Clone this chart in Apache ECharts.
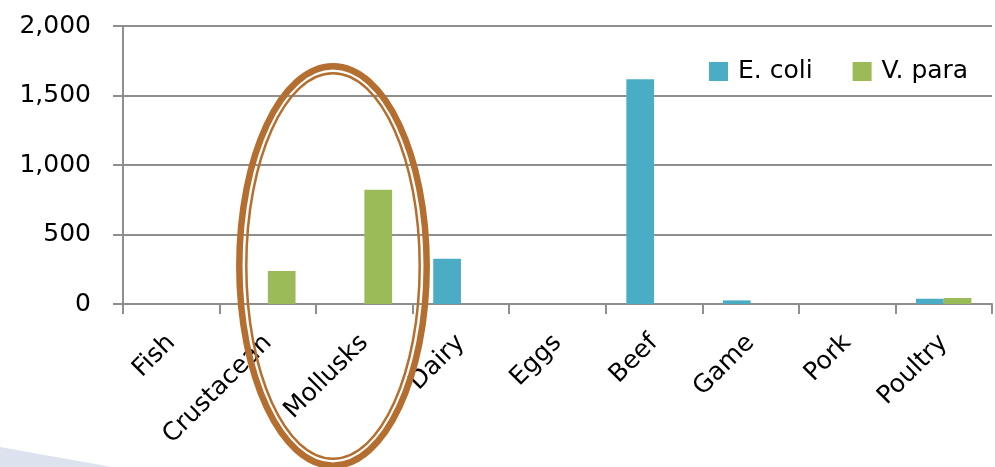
<!DOCTYPE html>
<html>
<head>
<meta charset="utf-8">
<script src="https://cdn.jsdelivr.net/npm/echarts@6/dist/echarts.min.js"></script>
<style>
html,body{margin:0;padding:0;background:#fff;}
#chart{width:995px;height:467px;}
</style>
</head>
<body>
<div id="chart"></div>
<script>
var categories = ['Fish','Crustacean','Mollusks','Dairy','Eggs','Beef','Game','Pork','Poultry'];
var ecoli = [0, 0, 0, 325, 0, 1617, 26, 0, 38];
var vpara = [0, 237, 822, 0, 0, 0, 0, 0, 43];
var yTicks = ['0','500','1,000','1,500','2,000'];

var FONT = 'DejaVu Sans';
var chart = echarts.init(document.getElementById('chart'), null, {renderer:'canvas'});
chart.setOption({
  animation:false,
  backgroundColor:'#ffffff',
  textStyle:{fontFamily:FONT},
  grid:{left:123,right:3,top:26,bottom:163,containLabel:false},
  legend:{
    show:true, left:709, top:59, padding:0, itemWidth:19, itemHeight:19, itemGap:40,
    icon:'rect',
    textStyle:{fontFamily:FONT,fontSize:25,color:'#000',padding:[0,0,0,5]},
    data:['E. coli','V. para']
  },
  xAxis:{
    type:'category', data:categories,
    axisLine:{show:true,lineStyle:{color:'#8e8e8e',width:2}},
    axisTick:{show:true,length:10,alignWithLabel:false,lineStyle:{color:'#8e8e8e',width:2}},
    axisLabel:{rotate:45,margin:35,fontFamily:FONT,fontSize:25,color:'#000',interval:0},
    splitLine:{show:false}
  },
  yAxis:{
    type:'value', min:0, max:2000, interval:500,
    axisLine:{show:true,lineStyle:{color:'#8e8e8e',width:2}},
    axisTick:{show:true,length:10,lineStyle:{color:'#8e8e8e',width:2}},
    axisLabel:{margin:32,fontFamily:FONT,fontSize:25,color:'#000',
      formatter:function(v){return yTicks[Math.round(v/500)];}},
    splitLine:{show:true,lineStyle:{color:'#8e8e8e',width:2}}
  },
  series:[
    {name:'E. coli',type:'bar',data:ecoli,barGap:'0%',barCategoryGap:'42.6%',
     itemStyle:{color:'#4BACC6'}},
    {name:'V. para',type:'bar',data:vpara,barGap:'0%',barCategoryGap:'42.6%',
     itemStyle:{color:'#9BBB59'}}
  ],
  graphic:[
    {type:'polygon',z:-1,shape:{points:[[0,447],[112,467],[0,467]]},style:{fill:'#dce3ef'}},
    {type:'ellipse',z:100,shape:{cx:333,cy:266,rx:93.7,ry:199.7},style:{fill:null,stroke:'#B46F30',lineWidth:6.5}},
    {type:'ellipse',z:100,shape:{cx:333,cy:266,rx:86.7,ry:192.7},style:{fill:null,stroke:'#B46F30',lineWidth:2.5}}
  ]
});
</script>
</body>
</html>
